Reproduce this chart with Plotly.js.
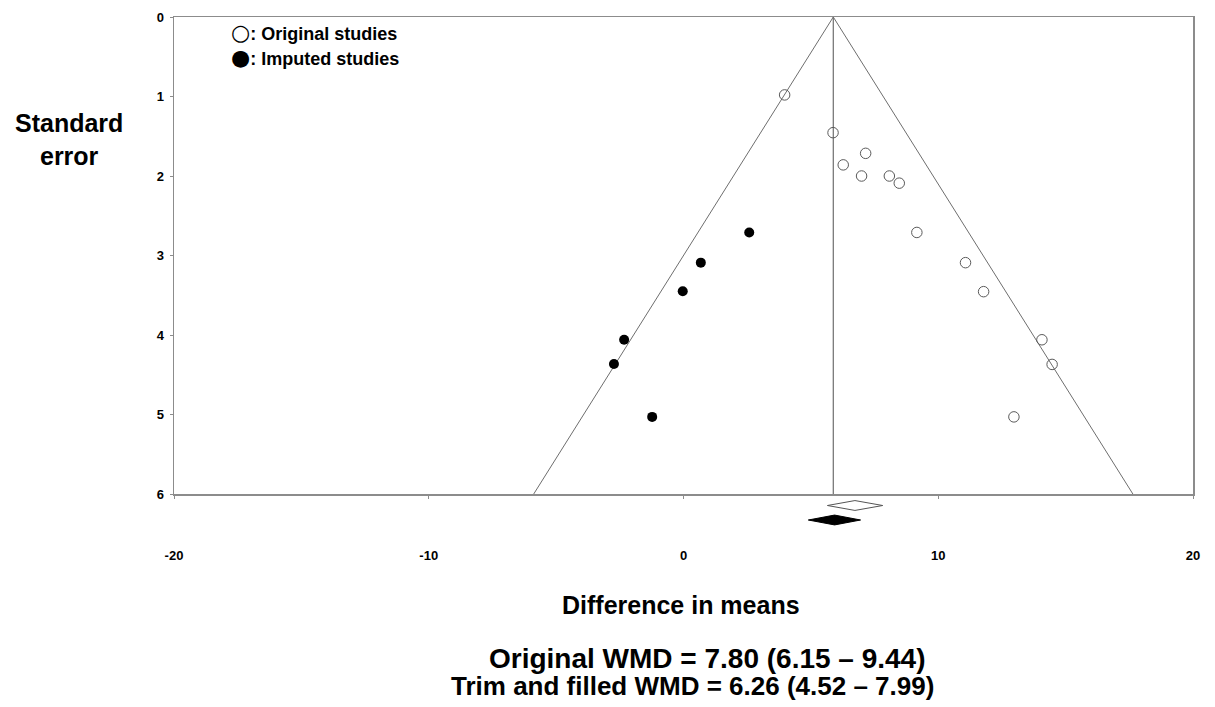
<!DOCTYPE html>
<html>
<head>
<meta charset="utf-8">
<script src="https://cdn.plot.ly/plotly-3.0.1.min.js"></script>
<style>html,body{margin:0;padding:0;background:#fff;}#chart{width:1215px;height:707px;}</style>
</head>
<body>
<div id="chart"></div>
<script>
// ---- data ----
const originalDiff = [3.97, 5.87, 7.15, 6.27, 6.99, 8.08, 8.47, 9.16, 11.07, 11.78, 14.07, 14.47, 12.97];
const originalSE   = [0.98, 1.455, 1.715, 1.86, 2.00, 2.00, 2.09, 2.71, 3.09, 3.455, 4.06, 4.37, 5.03];
const imputedDiff  = [2.58, 0.68, -0.03, -2.33, -2.73, -1.23];
const imputedSE    = [2.71, 3.09, 3.45, 4.06, 4.365, 5.03];
const funnelCenter = 5.88;     // pooled estimate used for the funnel
const maxSE = 6;
const diamondOriginal = {est: 6.73, lo: 5.65, hi: 7.82};
const diamondFilled   = {est: 5.93, lo: 4.90, hi: 6.95};
const xTicks = [-20, -10, 0, 10, 20];
const yTicks = [0, 1, 2, 3, 4, 5, 6];
const legendSymbols = ["○", "●"];
const legendLabels = [": Original studies", ": Imputed studies"];
const xTitle = "Difference in means";
const yTitle = "Standard<br>error";
const summaryLines = ["Original WMD = 7.80 (6.15 – 9.44)", "Trim and filled WMD = 6.26 (4.52 – 7.99)"];

// ---- layout helpers ----
const W = 1215, H = 707;
const px = v => v / W;
const py = v => 1 - v / H;
const FONT = "Liberation Sans, Arial, Helvetica, sans-serif";
const lineGray = "#6e6e6e";
const frameGray = "#8c8c8c";

function diamond(d, row, half) {
  return {x: [d.lo, d.est, d.hi, d.est, d.lo], y: [row, row - half, row, row + half, row]};
}
const dO = diamond(diamondOriginal, 1, 0.34);
const dF = diamond(diamondFilled, 2, 0.34);

const traces = [
  {x: [funnelCenter - 1.96 * maxSE, funnelCenter, funnelCenter + 1.96 * maxSE], y: [maxSE, 0, maxSE],
   mode: "lines", line: {color: lineGray, width: 1}, hoverinfo: "skip", showlegend: false},
  {x: [funnelCenter, funnelCenter], y: [0, maxSE], mode: "lines",
   line: {color: lineGray, width: 1.2}, hoverinfo: "skip", showlegend: false},
  {x: originalDiff, y: originalSE, mode: "markers", name: "Original studies",
   marker: {symbol: "circle-open", size: 10.5, color: "#5a5a5a", line: {width: 1, color: "#5a5a5a"}}, showlegend: false},
  {x: imputedDiff, y: imputedSE, mode: "markers", name: "Imputed studies",
   marker: {symbol: "circle", size: 10, color: "#000"}, showlegend: false},
  {x: dO.x, y: dO.y, xaxis: "x", yaxis: "y2", mode: "lines", fill: "toself", fillcolor: "#fff",
   line: {color: "#555", width: 1}, showlegend: false, hoverinfo: "skip"},
  {x: dF.x, y: dF.y, xaxis: "x", yaxis: "y2", mode: "lines", fill: "toself", fillcolor: "#000",
   line: {color: "#000", width: 1}, showlegend: false, hoverinfo: "skip"}
];

const tickFont = {family: FONT, size: 13, color: "#000", weight: "bold"};
const bigFont = s => ({family: FONT, size: s, color: "#000", weight: "bold"});
const legendText = i => '<span style="font-size:22px;font-family:DejaVu Sans">' + legendSymbols[i] + '</span>' + legendLabels[i];

const layout = {
  width: W, height: H,
  margin: {l: 0, r: 0, t: 0, b: 0, pad: 0},
  paper_bgcolor: "#fff", plot_bgcolor: "#fff",
  showlegend: false,
  xaxis: {
    domain: [px(174), px(1193)], range: [-20, 20], anchor: "y",
    tickvals: xTicks, ticktext: xTicks.map(String), ticks: "outside", ticklen: 3, tickcolor: frameGray,
    tickfont: tickFont, ticklabelstandoff: 46,
    showline: true, mirror: true, linecolor: frameGray, linewidth: 1.5,
    showgrid: false, zeroline: false, automargin: false
  },
  yaxis: {
    domain: [py(494), py(17)], range: [6, 0], anchor: "x",
    tickvals: yTicks, ticktext: yTicks.map(String), ticks: "outside", ticklen: 3, tickcolor: frameGray,
    tickfont: tickFont, ticklabelstandoff: 3,
    showline: true, mirror: true, linecolor: frameGray, linewidth: 1.5,
    showgrid: false, zeroline: false, automargin: false
  },
  yaxis2: {
    domain: [py(540), py(494)], range: [3.379, 0.207], anchor: "x",
    visible: false, showgrid: false, zeroline: false, automargin: false
  },
  annotations: [
    {xref: "paper", yref: "paper", x: px(69), y: py(140), xanchor: "center", yanchor: "middle",
     text: yTitle, showarrow: false, font: bigFont(25)},
    {xref: "paper", yref: "paper", x: px(681), y: py(605), xanchor: "center", yanchor: "middle",
     text: xTitle, showarrow: false, font: bigFont(25)},
    {xref: "paper", yref: "paper", x: px(707), y: py(658), xanchor: "center", yanchor: "middle",
     text: summaryLines[0], showarrow: false, font: bigFont(28)},
    {xref: "paper", yref: "paper", x: px(692), y: py(686), xanchor: "center", yanchor: "middle",
     text: summaryLines[1], showarrow: false, font: bigFont(26)},
    {xref: "paper", yref: "paper", x: px(229), y: py(33), xanchor: "left", yanchor: "middle",
     text: legendText(0), showarrow: false, font: bigFont(18)},
    {xref: "paper", yref: "paper", x: px(229), y: py(58), xanchor: "left", yanchor: "middle",
     text: legendText(1), showarrow: false, font: bigFont(18)}
  ]
};

Plotly.newPlot("chart", traces, layout, {displayModeBar: false, staticPlot: true});
</script>
</body>
</html>
